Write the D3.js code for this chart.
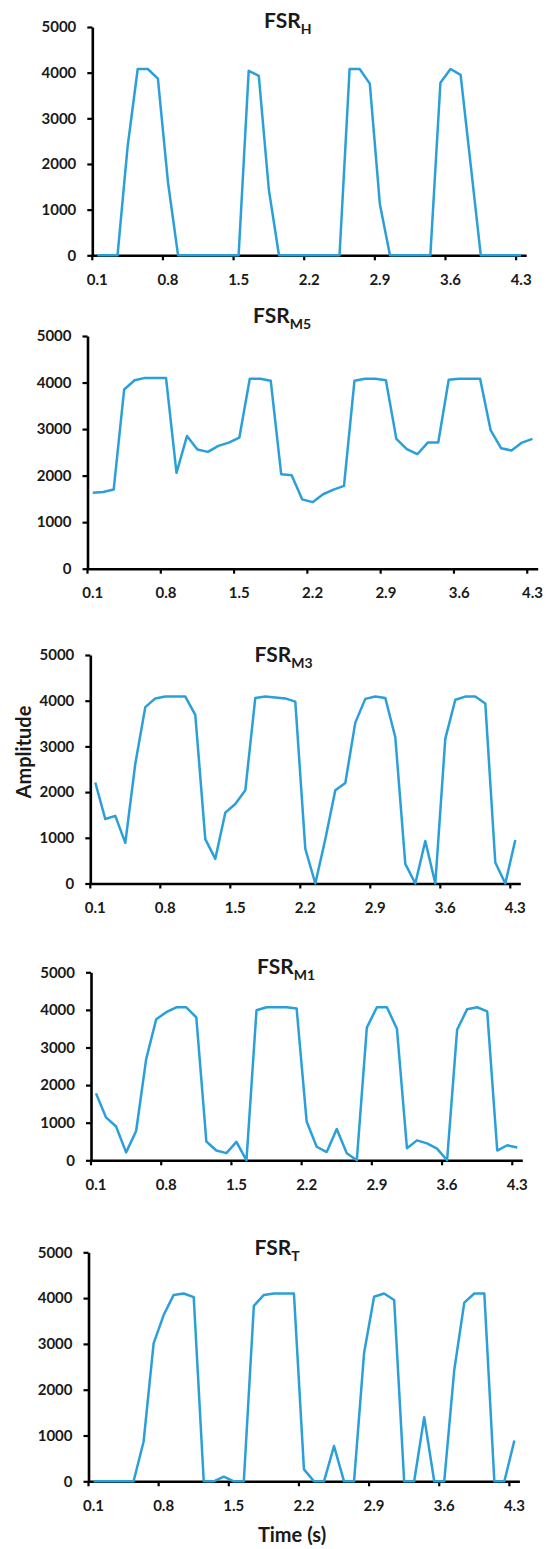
<!DOCTYPE html>
<html>
<head>
<meta charset="utf-8">
<script src="https://cdn.jsdelivr.net/npm/d3@7"></script>
<style>
  body { margin: 0; background: #fff; }
  svg { display: block; font-family: Lato, "Open Sans", sans-serif; }
</style>
</head>
<body>
<div id="chart"></div>
<script>
// time categories, one every 0.1 s
const timeLabels = ["0.1","0.2","0.3","0.4","0.5","0.6","0.7","0.8","0.9","1.0",
  "1.1","1.2","1.3","1.4","1.5","1.6","1.7","1.8","1.9","2.0",
  "2.1","2.2","2.3","2.4","2.5","2.6","2.7","2.8","2.9","3.0",
  "3.1","3.2","3.3","3.4","3.5","3.6","3.7","3.8","3.9","4.0",
  "4.1","4.2","4.3"];
const xTickLabels = ["0.1","0.8","1.5","2.2","2.9","3.6","4.3"];
const yTickValues = [0, 1000, 2000, 3000, 4000, 5000];

const fsrH = [0,0,0,2380,4080,4080,3870,1600,0,0,
  0,0,0,0,0,4040,3930,1430,0,0,
  0,0,0,0,0,4080,4080,3760,1120,0,
  0,0,0,0,3780,4080,3950,1980,0,0,
  0,0,0];
const fsrM5 = [1633,1650,1700,3850,4050,4100,4100,4100,2060,2850,
  2560,2510,2640,2710,2815,4080,4080,4040,2030,2010,
  1490,1430,1600,1700,1780,4040,4080,4080,4050,2790,
  2570,2460,2710,2710,4060,4080,4080,4080,2980,2590,
  2540,2710,2790];
const fsrM3 = [2210,1410,1480,890,2620,3860,4050,4090,4090,4090,
  3690,970,540,1550,1740,2040,4060,4090,4070,4050,
  3980,760,0,970,2040,2200,3520,4040,4090,4060,
  3200,430,0,930,0,3170,4020,4090,4090,3940,
  460,0,950];
const fsrM1 = [1780,1140,900,210,780,2690,3750,3940,4070,4070,
  3800,500,260,190,490,0,3990,4070,4070,4070,
  4040,1030,360,220,830,190,0,3530,4070,4070,
  3500,320,530,450,310,0,3470,4020,4070,3960,
  260,400,340];
const fsrT = [0,0,0,0,0,870,3010,3630,4070,4100,
  4020,0,0,100,0,0,3830,4070,4100,4100,
  4100,260,0,0,770,0,0,2800,4030,4100,
  3960,0,0,1400,0,0,2430,3900,4100,4100,
  0,0,890];

const panelSubs = ["H", "M5", "M3", "M1", "T"];
const panelSeries = [fsrH, fsrM5, fsrM3, fsrM1, fsrT];

// where each small chart sits on the page
const layout = [
  {x0: 92.3, x1: 526.2, y0: 255.3, y1: 27.0, tx: 264, ty: 28},
  {x0: 87.5, x1: 537.7, y0: 568.7, y1: 336.0, tx: 253, ty: 323},
  {x0: 90.3, x1: 520.3, y0: 883.5, y1: 655.0, tx: 254.5, ty: 661.5},
  {x0: 91.0, x1: 522.3, y0: 1160.3, y1: 972.3, tx: 257, ty: 974},
  {x0: 88.5, x1: 519.4, y0: 1481.3, y1: 1252.3, tx: 254.5, ty: 1255}
];

const lineColor = "#2b9fd9";
const textColor = "#1a1a1a";

const svg = d3.select("#chart")
  .append("svg")
  .attr("width", 549)
  .attr("height", 1549);

panelSeries.forEach((values, p) => {
  const L = layout[p];
  const x = d3.scaleBand().domain(timeLabels).range([L.x0, L.x1]);
  const y = d3.scaleLinear().domain([0, 5000]).range([L.y0, L.y1]);
  const bw = x.bandwidth();
  const g = svg.append("g");

  // y axis
  const yAxis = g.append("g")
    .attr("transform", "translate(" + L.x0 + ",0)")
    .call(d3.axisLeft(y).tickValues(yTickValues).tickFormat(d3.format("d"))
      .tickSize(5).tickSizeOuter(0).tickPadding(11));

  // x axis, ticks on category edges, labels centred
  const xAxis = g.append("g")
    .attr("transform", "translate(0," + L.y0 + ")")
    .call(d3.axisBottom(x).tickValues(xTickLabels).tickSize(5).tickSizeOuter(0).tickPadding(14));
  xAxis.selectAll(".tick line").attr("x1", -bw / 2).attr("x2", -bw / 2);

  [yAxis, xAxis].forEach(ax => {
    ax.select(".domain").attr("stroke", "#000").attr("stroke-width", 2.6);
    ax.selectAll(".tick line").attr("stroke", "#000").attr("stroke-width", 2.2);
    ax.selectAll(".tick text")
      .attr("fill", textColor)
      .style("font-family", "Lato, sans-serif")
      .style("font-size", "15px")
      .style("font-weight", "bold");
  });

  // series line
  const line = d3.line()
    .x((d, i) => x(timeLabels[i]) + bw / 2)
    .y(d => y(d));
  g.append("path")
    .datum(values)
    .attr("fill", "none")
    .attr("stroke", lineColor)
    .attr("stroke-width", 2.5)
    .attr("stroke-linejoin", "round")
    .attr("d", line);

  // title with subscript
  const title = g.append("text")
    .attr("x", L.tx)
    .attr("y", L.ty)
    .attr("fill", textColor)
    .style("font-size", "21px")
    .style("font-weight", "bold");
  title.append("tspan").text("FSR");
  title.append("tspan")
    .attr("dy", 6)
    .style("font-size", "14px")
    .text(panelSubs[p]);
});

// shared axis titles
svg.append("text")
  .attr("transform", "translate(31,752) rotate(-90)")
  .attr("text-anchor", "middle")
  .attr("fill", textColor)
  .style("font-size", "20px")
  .style("font-weight", "bold")
  .text("Amplitude");

svg.append("text")
  .attr("x", 292)
  .attr("y", 1542)
  .attr("text-anchor", "middle")
  .attr("fill", textColor)
  .style("font-size", "20px")
  .style("font-weight", "bold")
  .text("Time (s)");
</script>
</body>
</html>
